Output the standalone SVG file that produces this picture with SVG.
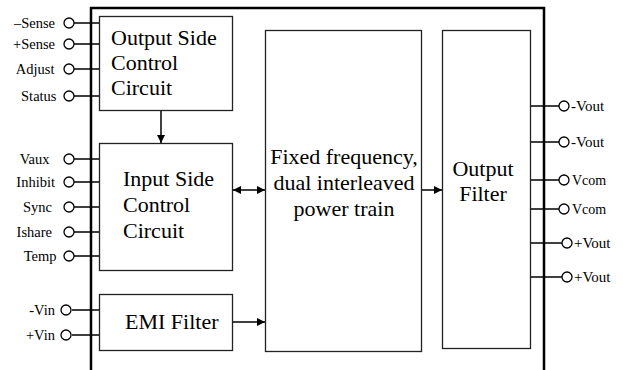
<svg xmlns="http://www.w3.org/2000/svg" width="623" height="370" viewBox="0 0 623 370">
<style>
.box{fill:#fff;stroke:#222;stroke-width:1.3}
.frame{fill:none;stroke:#000;stroke-width:2.5}
.pin{fill:#fff;stroke:#000;stroke-width:1.3}
.w{stroke:#000;stroke-width:1.5;fill:none}
.t{font-family:"Liberation Serif",serif;font-size:22px;fill:#000}
.l{font-family:"Liberation Serif",serif;font-size:14.5px;fill:#000}
.r{font-family:"Liberation Serif",serif;font-size:15px;fill:#000}
.s{font-family:"Liberation Serif",serif;font-size:14px;fill:#000}
</style>
<defs>
<marker id="ah" viewBox="0 0 10 10" refX="10" refY="5" markerWidth="10" markerHeight="8" markerUnits="userSpaceOnUse" orient="auto-start-reverse">
<path d="M0,0 L10,5 L0,10 z" fill="#000"/>
</marker>
</defs>
<path class="frame" d="M91,370 V8 H544 V370"/>
<g id="connectors">
<path class="w" d="M74,23 H100 M74,44 H100 M74,69 H100 M74,96 H100"/>
<path class="w" d="M74,159 H100 M74,182 H100 M74,207 H100 M74,232 H100 M74,256 H100"/>
<path class="w" d="M72,310 H100 M72,335 H100"/>
<path class="w" d="M531,106 H559 M531,142 H559 M531,180 H559 M531,209 H559 M531,243 H562 M531,277 H562"/>
<line class="w" x1="161" y1="110" x2="161" y2="143" marker-end="url(#ah)"/>
<line class="w" x1="233" y1="190" x2="265" y2="190" marker-start="url(#ah)" marker-end="url(#ah)"/>
<line class="w" x1="422" y1="190" x2="442" y2="190" marker-end="url(#ah)"/>
<line class="w" x1="232" y1="322" x2="265" y2="322" marker-end="url(#ah)"/>
</g>
<g id="output-side-control">
<rect class="box" x="99.5" y="16.5" width="133" height="94"/>
<text class="t" x="111" y="45">Output Side</text>
<text class="t" x="111" y="70">Control</text>
<text class="t" x="111" y="95">Circuit</text>
</g>
<g id="input-side-control">
<rect class="box" x="99.5" y="143.5" width="133" height="127"/>
<text class="t" x="123" y="186">Input Side</text>
<text class="t" x="123" y="212">Control</text>
<text class="t" x="123" y="238">Circuit</text>
</g>
<g id="emi-filter">
<rect class="box" x="99.5" y="294.5" width="133" height="56"/>
<text class="t" x="125" y="329">EMI Filter</text>
</g>
<g id="power-train">
<rect class="box" x="265.5" y="30.5" width="156" height="321"/>
<text class="t" x="344" y="164" text-anchor="middle">Fixed frequency,</text>
<text class="t" x="344" y="190" text-anchor="middle">dual interleaved</text>
<text class="t" x="344" y="216" text-anchor="middle">power train</text>
</g>
<g id="output-filter">
<rect class="box" x="442.5" y="30.5" width="88" height="318"/>
<text class="t" x="483" y="176" text-anchor="middle">Output</text>
<text class="t" x="483" y="201" text-anchor="middle">Filter</text>
</g>
<g id="pins-left">
<circle class="pin" cx="69" cy="23" r="5"/><text class="l" x="55" y="28" text-anchor="end">–Sense</text>
<circle class="pin" cx="69" cy="44" r="5"/><text class="l" x="55" y="49" text-anchor="end">+Sense</text>
<circle class="pin" cx="69" cy="69" r="5"/><text class="l" x="54.5" y="74" text-anchor="end">Adjust</text>
<circle class="pin" cx="69" cy="96" r="5"/><text class="l" x="56.5" y="101" text-anchor="end">Status</text>
<circle class="pin" cx="69" cy="159" r="5"/><text class="l" x="49.5" y="164" text-anchor="end">Vaux</text>
<circle class="pin" cx="69" cy="182" r="5"/><text class="l" x="55" y="187" text-anchor="end">Inhibit</text>
<circle class="pin" cx="69" cy="207" r="5"/><text class="l" x="52" y="212" text-anchor="end">Sync</text>
<circle class="pin" cx="69" cy="232" r="5"/><text class="l" x="52" y="237" text-anchor="end">Ishare</text>
<circle class="pin" cx="69" cy="256" r="5"/><text class="l" x="56.5" y="261" text-anchor="end">Temp</text>
<circle class="pin" cx="66" cy="310" r="5"/><text class="l" x="55" y="315" text-anchor="end">-Vin</text>
<circle class="pin" cx="66" cy="335" r="5"/><text class="l" x="55" y="340" text-anchor="end">+Vin</text>
</g>
<g id="pins-right">
<circle class="pin" cx="564" cy="106" r="5"/><text class="r" x="571" y="111">-Vout</text>
<circle class="pin" cx="564" cy="142" r="5"/><text class="r" x="571" y="147">-Vout</text>
<circle class="pin" cx="564" cy="180" r="5"/><text class="s" x="572" y="185">Vcom</text>
<circle class="pin" cx="564" cy="209" r="5"/><text class="s" x="572" y="214">Vcom</text>
<circle class="pin" cx="567" cy="243" r="5"/><text class="r" x="574" y="248">+Vout</text>
<circle class="pin" cx="567" cy="277" r="5"/><text class="r" x="574" y="282">+Vout</text>
</g>
</svg>
